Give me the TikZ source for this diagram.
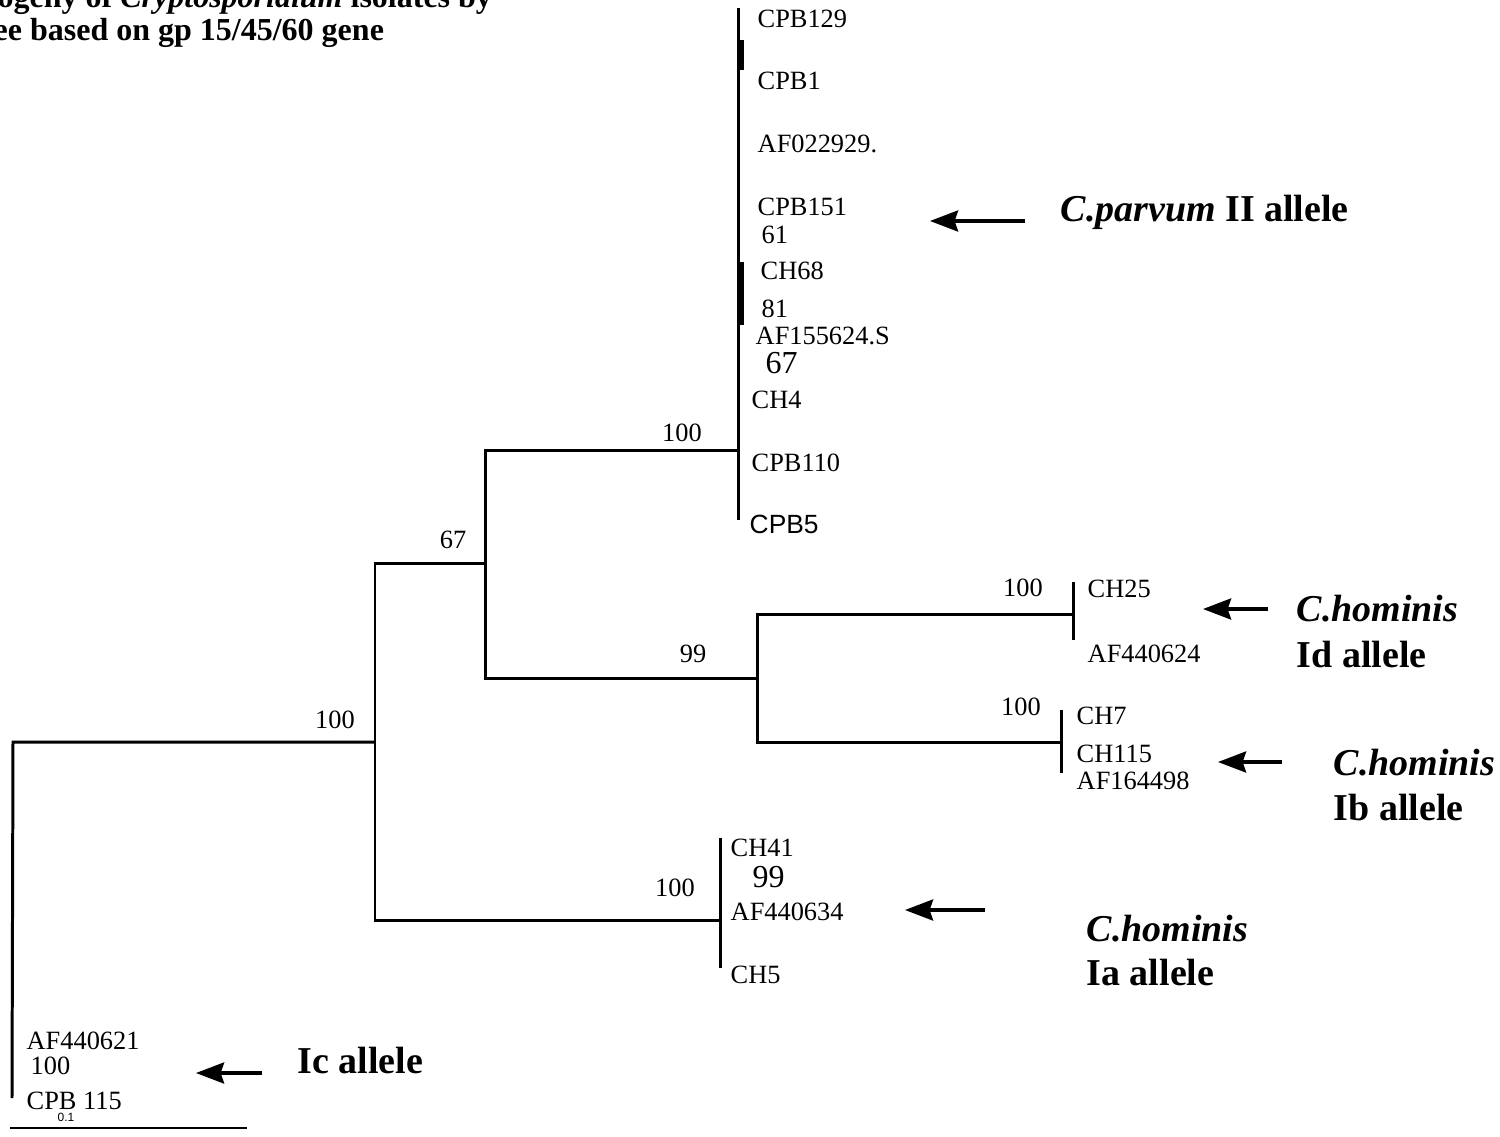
\documentclass[tikz,border=0pt]{standalone}
\usepackage{fontspec}
\setmainfont{Liberation Serif}
\newfontfamily\helvfont{Liberation Sans}
\usetikzlibrary{arrows.meta, positioning}

\begin{document}
\begin{tikzpicture}[
    x=0.01cm, y=-0.01cm,
    branch/.style={line width=0.85pt},
    pointer/.style={-{Stealth[length=8pt, width=6pt, inset=1pt]}, line width=0.9pt},
    leaf/.style={anchor=base west, inner sep=0pt, font=\fontsize{7.5}{9}\selectfont},
    boot/.style={anchor=base, inner sep=0pt, font=\fontsize{7.5}{9}\selectfont},
    bignum/.style={anchor=base west, inner sep=0pt, font=\fontsize{9.1}{11}\selectfont},
    allele/.style={anchor=base west, inner sep=0pt, font=\fontsize{10.8}{13}\selectfont\bfseries},
    headline/.style={anchor=base west, inner sep=0pt, font=\fontsize{9.1}{11}\selectfont\bfseries},
  ]

  % ===== Canvas =====
  \fill[white] (0,0) rectangle (1500,1136);
  \clip (0,0) rectangle (1500,1136);

  % ===== Title (cut at the top edge) =====
  \node[headline] (head1) at (-3,7) {ogeny of \textit{Cryptosporidium} isolates by};
  \node[headline] (head2) at (-7,40) {ee based on gp 15/45/60 gene};

  % ===== Tree skeleton =====
  \coordinate (root) at (13,742);
  \coordinate (rootend) at (12,1098);
  \coordinate (n1) at (375,742);
  \coordinate (n2) at (485,563);
  \coordinate (n3) at (757,678);
  \coordinate (cpar) at (738,450);
  \coordinate (homd) at (1073,614);
  \coordinate (homb) at (1061,742);
  \coordinate (homa) at (720,920);

  \draw[branch] (rootend) -- (root) -- (n1);
  \draw[branch] (n1) |- (n2);
  \draw[branch] (n1) |- (homa);
  \draw[branch] (n2) |- (cpar);
  \draw[branch] (n2) |- (n3);
  \draw[branch] (n3) |- (homd);
  \draw[branch] (n3) |- (homb);

  % Terminal combs
  \draw[branch] (cpar) ++(0,-442) -- ++(0,512);
  \draw[branch] (homd) ++(0,-32) -- ++(0,58);
  \draw[branch] (homb) ++(0,-32) -- ++(0,63);
  \draw[branch] (homa) ++(0,-82) -- ++(0,130);
  \draw[line width=1.5pt] (741,40) -- (741,70);
  \draw[line width=1.5pt] (741,262) -- (741,325);

  % Bootstrap values
  \node[boot] (b1) at (335,728) {100};
  \node[boot] (b2) at (453,548) {67};
  \node[boot] (b3) at (682,441) {100};
  \node[boot] (b4) at (693,662) {99};
  \node[boot] (b5) at (1023,596) {100};
  \node[boot] (b6) at (1021,715) {100};
  \node[boot] (b7) at (675,896) {100};

  % ===== C. parvum clade =====
  \node[leaf] (cpb129) at (757,27) {CPB129};
  \node[leaf] (cpb1) at (757,89) {CPB1};
  \node[leaf] (af022929) at (757,152) {AF022929.};
  \node[leaf] (cpb151) at (757,215) {CPB151};
  \node[leaf] (v61) at (761,243) {61};
  \node[leaf] (ch68) at (760,279) {CH68};
  \node[leaf] (v81) at (761,317) {81};
  \node[leaf] (af155624) at (755,344) {AF155624.S};
  \node[bignum] (v67) at (765,373) {67};
  \node[leaf] (ch4) at (751,408) {CH4};
  \node[leaf] (cpb110) at (751,471) {CPB110};
  \node[leaf, font=\fontsize{7.5}{9}\selectfont\helvfont] (cpb5) at (749,533) {CPB5};

  % ===== C. hominis clades =====
  \node[leaf] (ch25) at (1087,597) {CH25};
  \node[leaf] (af440624) at (1087,662) {AF440624};
  \node[leaf] (ch7) at (1076,724) {CH7};
  \node[leaf] (ch115) at (1076,762) {CH115};
  \node[leaf] (af164498) at (1076,789) {AF164498};
  \node[leaf] (ch41) at (730,856) {CH41};
  \node[bignum] (v99) at (752,887) {99};
  \node[leaf] (af440634) at (730,920) {AF440634};
  \node[leaf] (ch5) at (730,983) {CH5};

  % ===== Ic leaves and scale =====
  \node[leaf] (af440621) at (26,1049) {AF440621};
  \node[leaf] (v100) at (30,1074) {100};
  \node[leaf] (cpb115) at (26,1109) {CPB 115};
  \node[anchor=base, inner sep=0pt, font=\fontsize{3.4}{4}\selectfont\helvfont] (scl) at (66,1121) {0.1};
  \coordinate (sbl) at (10,1128);
  \coordinate (sbr) at (247,1128);
  \draw[line width=0.6pt] (sbl) -- (sbr);

  % ===== Allele labels =====
  \node[allele] (lparvum) at (1060,221) {\textit{C.parvum} II allele};
  \node[allele] (ldhom) at (1296,621) {\textit{C.hominis}};
  \node[allele] (ldal) at (1296,667) {Id allele};
  \node[allele] (lbhom) at (1333,775) {\textit{C.hominis}};
  \node[allele] (lbal) at (1333,820) {Ib allele};
  \node[allele] (lahom) at (1086,941) {\textit{C.hominis}};
  \node[allele] (laal) at (1086,985) {Ia allele};
  \node[allele] (lcal) at (297,1073) {Ic allele};

  % Arrows
  \coordinate (p1a) at (1025,221); \coordinate (p1b) at (930,221);
  \coordinate (p2a) at (1268,609); \coordinate (p2b) at (1203,609);
  \coordinate (p3a) at (1282,762); \coordinate (p3b) at (1218,762);
  \coordinate (p4a) at (985,910);  \coordinate (p4b) at (905,910);
  \coordinate (p5a) at (262,1073); \coordinate (p5b) at (196,1073);
  \draw[pointer] (p1a) -- (p1b);
  \draw[pointer] (p2a) -- (p2b);
  \draw[pointer] (p3a) -- (p3b);
  \draw[pointer] (p4a) -- (p4b);
  \draw[pointer] (p5a) -- (p5b);

\end{tikzpicture}
\end{document}
